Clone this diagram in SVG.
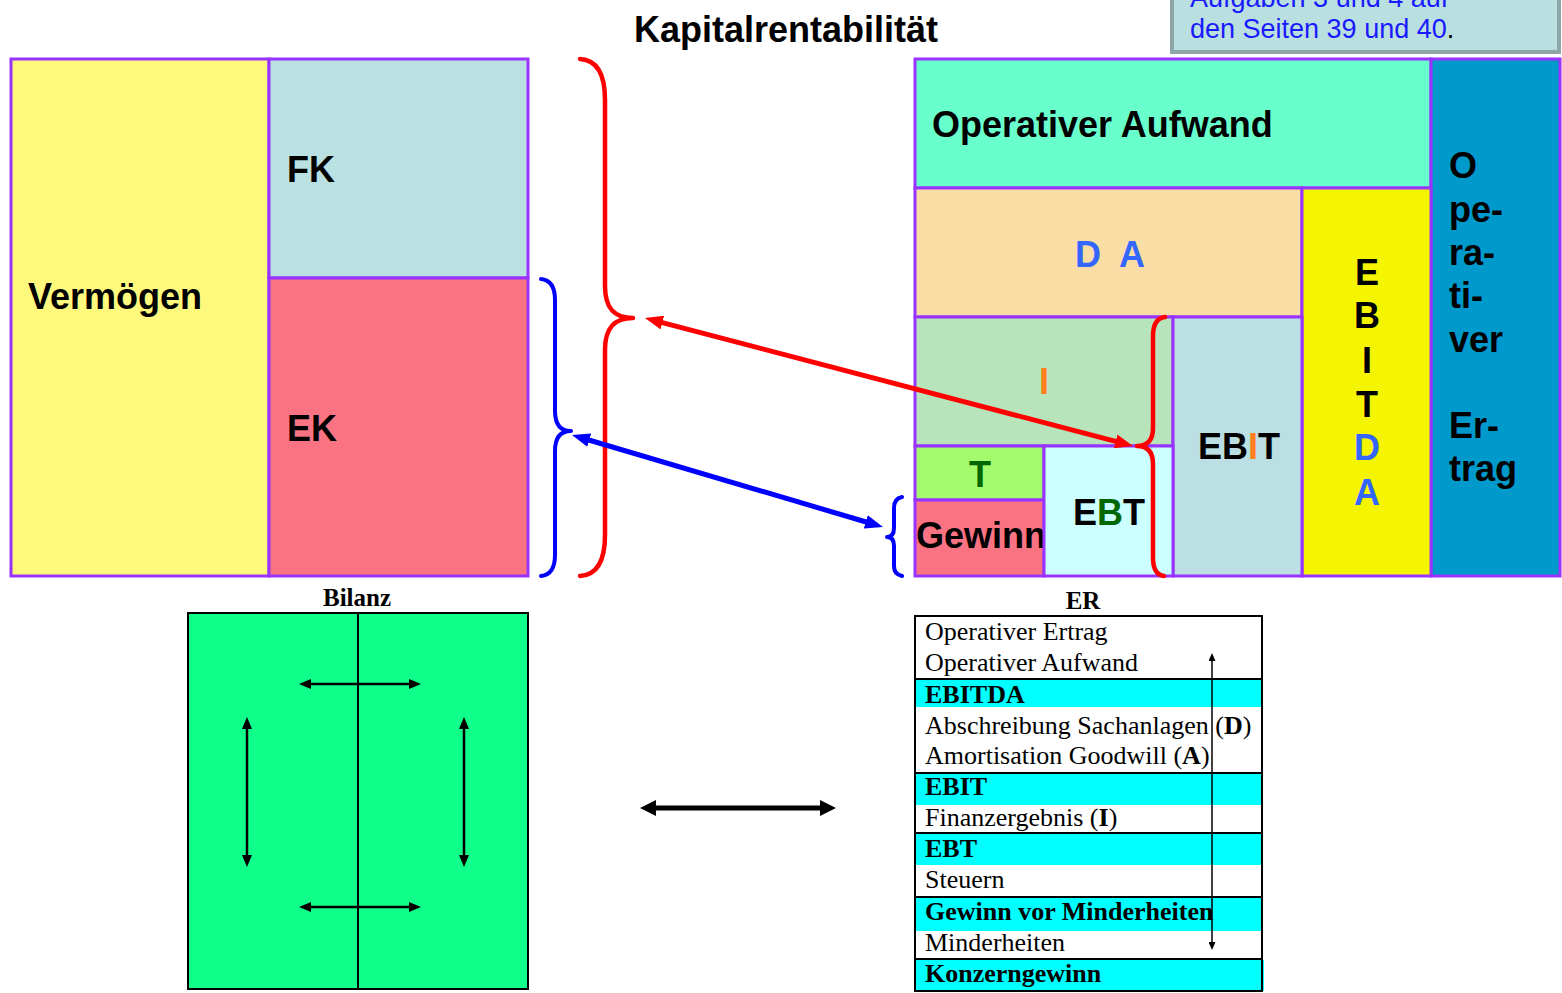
<svg xmlns="http://www.w3.org/2000/svg" width="1562" height="993" viewBox="0 0 1562 993">
  <style>
    .box { stroke: #9933ff; stroke-width: 3; }
    .lbl { font-family: "Liberation Sans", Arial, sans-serif; font-weight: bold; font-size: 36px; fill: #000; }
    .blue { fill: #3366ff; }
    .orange { fill: #ff7f1e; }
    .dgreen { fill: #006600; }
    .brace { fill: none; stroke-linecap: round; stroke-linejoin: round; }
    .serif { font-family: "Liberation Serif", "Times New Roman", serif; font-size: 26px; fill: #000; }
    .sb { font-weight: bold; }
    .rule { stroke: #000; stroke-width: 2; }
    .note { font-family: "Liberation Sans", Arial, sans-serif; font-size: 27px; fill: #1a1aff; }
  </style>
  <defs>
    <marker id="arrRed" markerUnits="userSpaceOnUse" markerWidth="18" markerHeight="14" viewBox="0 0 18 14" refX="4" refY="7" orient="auto-start-reverse">
      <path d="M0,0 L18,7 L0,14 z" fill="#ff0000"/>
    </marker>
    <marker id="arrBlue" markerUnits="userSpaceOnUse" markerWidth="18" markerHeight="14" viewBox="0 0 18 14" refX="4" refY="7" orient="auto-start-reverse">
      <path d="M0,0 L18,7 L0,14 z" fill="#0000ff"/>
    </marker>
    <marker id="arrBig" markerUnits="userSpaceOnUse" markerWidth="16" markerHeight="16" viewBox="0 0 16 16" refX="4" refY="8" orient="auto-start-reverse">
      <path d="M0,0 L16,8 L0,16 z" fill="#000"/>
    </marker>
    <marker id="arrSmall" markerUnits="userSpaceOnUse" markerWidth="12" markerHeight="10" viewBox="0 0 12 10" refX="3" refY="5" orient="auto-start-reverse">
      <path d="M0,0 L12,5 L0,10 z" fill="#000"/>
    </marker>
    <marker id="arrTiny" markerUnits="userSpaceOnUse" markerWidth="8" markerHeight="7" viewBox="0 0 8 7" refX="2" refY="3.5" orient="auto-start-reverse">
      <path d="M0,0 L8,3.5 L0,7 z" fill="#000"/>
    </marker>
  </defs>

  <rect width="1562" height="993" fill="#ffffff"/>

  <!-- note box in the top right corner -->
  <g id="note">
    <rect x="1172" y="-10" width="387" height="62" fill="#b9dfe0" stroke="#8fa6a8" stroke-width="4"/>
    <text class="note" x="1190" y="7">Aufgaben 3 und 4 auf</text>
    <text class="note" x="1190" y="38">den Seiten 39 und 40<tspan fill="#000">.</tspan></text>
  </g>

  <g id="title">
    <text class="lbl" x="786" y="42" text-anchor="middle">Kapitalrentabilität</text>
  </g>

  <!-- balance sheet blocks -->
  <g id="vermoegen">
    <rect class="box" x="11" y="59" width="258" height="517" fill="#fef97c"/>
    <text class="lbl" x="28" y="309">Vermögen</text>
  </g>
  <g id="fk">
    <rect class="box" x="269" y="59" width="259" height="219" fill="#bbe0e2"/>
    <text class="lbl" x="287" y="182">FK</text>
  </g>
  <g id="ek">
    <rect class="box" x="269" y="278" width="259" height="298" fill="#f97382"/>
    <text class="lbl" x="287" y="441">EK</text>
  </g>

  <!-- income statement blocks -->
  <g id="op-aufwand">
    <rect class="box" x="915" y="59" width="516" height="129" fill="#69ffcc"/>
    <text class="lbl" x="932" y="137">Operativer Aufwand</text>
  </g>
  <g id="op-ertrag">
    <rect class="box" x="1431" y="59" width="129" height="517" fill="#0099cc"/>
    <text class="lbl" x="1449" y="178">O</text>
    <text class="lbl" x="1449" y="222">pe-</text>
    <text class="lbl" x="1449" y="265">ra-</text>
    <text class="lbl" x="1449" y="308">ti-</text>
    <text class="lbl" x="1449" y="352">ver</text>
    <text class="lbl" x="1449" y="438">Er-</text>
    <text class="lbl" x="1449" y="481">trag</text>
  </g>
  <g id="da">
    <rect class="box" x="915" y="188" width="387" height="129" fill="#fadca5"/>
    <text class="lbl blue" x="1075" y="267">D</text>
    <text class="lbl blue" x="1119" y="267">A</text>
  </g>
  <g id="ebitda">
    <rect class="box" x="1302" y="188" width="129" height="388" fill="#f5f502"/>
    <text class="lbl" x="1367" y="285" text-anchor="middle">E</text>
    <text class="lbl" x="1367" y="328" text-anchor="middle">B</text>
    <text class="lbl" x="1367" y="373" text-anchor="middle">I</text>
    <text class="lbl" x="1367" y="417" text-anchor="middle">T</text>
    <text class="lbl blue" x="1367" y="460" text-anchor="middle">D</text>
    <text class="lbl blue" x="1367" y="505" text-anchor="middle">A</text>
  </g>
  <g id="i">
    <rect class="box" x="915" y="317" width="258" height="129" fill="#b8e4bb"/>
    <text class="lbl orange" x="1044" y="394" text-anchor="middle">I</text>
  </g>
  <g id="ebit">
    <rect class="box" x="1173" y="317" width="129" height="259" fill="#bbdfe2"/>
    <text class="lbl" x="1198" y="459">EB<tspan class="orange">I</tspan>T</text>
  </g>
  <g id="t">
    <rect class="box" x="915" y="446" width="129" height="54" fill="#a2fa6c"/>
    <text class="lbl dgreen" x="980" y="487" text-anchor="middle">T</text>
  </g>
  <g id="gewinn">
    <rect class="box" x="915" y="500" width="129" height="76" fill="#f97382"/>
    <text class="lbl" x="916" y="548">Gewinn</text>
  </g>
  <g id="ebt">
    <rect class="box" x="1044" y="446" width="129" height="130" fill="#ccffff"/>
    <text class="lbl" x="1073" y="525">E<tspan class="dgreen">B</tspan>T</text>
  </g>

  <!-- braces -->
  <g id="braces">
    <path class="brace" stroke="#ff0000" stroke-width="4.5" d="M580,59 C598,60 605,75 605,100 L605,286 C605,308 614,318 633,318 C614,318 605,328 605,350 L605,535 C605,560 598,575 580,576"/>
    <path class="brace" stroke="#0000ff" stroke-width="4" d="M541,279 C551,280 555,288 555,300 L555,411 C555,424 560,431 571,431 C560,431 555,438 555,451 L555,555 C555,568 551,575 541,576"/>
    <path class="brace" stroke="#0000ff" stroke-width="4" d="M902,497 C897,498 894,502 894,508 L894,528 C894,534 892,537 887,537 C892,537 894,540 894,546 L894,566 C894,572 897,575 902,576"/>
    <path class="brace" stroke="#ff0000" stroke-width="4.5" d="M1165,317 C1157,318 1153,324 1153,336 L1153,428 C1153,440 1148,446 1137,446 C1148,446 1153,452 1153,464 L1153,558 C1153,570 1157,575 1164,576"/>
  </g>

  <!-- connectors -->
  <g id="connectors">
    <line x1="658.5" y1="321.6" x2="1119.5" y2="442.4" stroke="#ff0000" stroke-width="5" marker-start="url(#arrRed)" marker-end="url(#arrRed)"/>
    <line x1="585.4" y1="439" x2="869.6" y2="523" stroke="#0000ff" stroke-width="5" marker-start="url(#arrBlue)" marker-end="url(#arrBlue)"/>
    <line x1="652" y1="808" x2="824" y2="808" stroke="#000" stroke-width="5" marker-start="url(#arrBig)" marker-end="url(#arrBig)"/>
  </g>

  <!-- Bilanz sketch -->
  <g id="bilanz">
    <text x="357" y="606" text-anchor="middle" font-family="'Liberation Serif', 'Times New Roman', serif" font-weight="bold" font-size="25">Bilanz</text>
    <rect x="188" y="613" width="340" height="376" fill="#10ff8a" stroke="#000" stroke-width="2"/>
    <line x1="358" y1="613" x2="358" y2="989" stroke="#000" stroke-width="2"/>
    <line x1="308" y1="684" x2="412" y2="684" stroke="#000" stroke-width="2.5" marker-start="url(#arrSmall)" marker-end="url(#arrSmall)"/>
    <line x1="308" y1="907" x2="412" y2="907" stroke="#000" stroke-width="2.5" marker-start="url(#arrSmall)" marker-end="url(#arrSmall)"/>
    <line x1="247" y1="726" x2="247" y2="858" stroke="#000" stroke-width="2.5" marker-start="url(#arrSmall)" marker-end="url(#arrSmall)"/>
    <line x1="464" y1="726" x2="464" y2="858" stroke="#000" stroke-width="2.5" marker-start="url(#arrSmall)" marker-end="url(#arrSmall)"/>
  </g>

  <!-- ER table -->
  <g id="er">
    <text x="1083" y="609" text-anchor="middle" font-family="'Liberation Serif', 'Times New Roman', serif" font-weight="bold" font-size="25">ER</text>
    <rect x="915" y="616" width="347" height="375" fill="#ffffff"/>
    <rect x="915" y="680" width="347" height="27" fill="#00ffff"/>
    <rect x="915" y="774" width="347" height="31" fill="#00ffff"/>
    <rect x="915" y="834" width="347" height="31" fill="#00ffff"/>
    <rect x="915" y="898" width="347" height="33" fill="#00ffff"/>
    <rect x="915" y="960" width="349" height="31" fill="#00ffff"/>
    <line class="rule" x1="915" y1="679" x2="1262" y2="679"/>
    <line class="rule" x1="915" y1="773" x2="1262" y2="773"/>
    <line class="rule" x1="915" y1="833" x2="1262" y2="833"/>
    <line class="rule" x1="915" y1="897" x2="1262" y2="897"/>
    <line class="rule" x1="915" y1="959" x2="1262" y2="959"/>
    <rect x="915" y="616" width="347" height="375" fill="none" stroke="#000" stroke-width="2"/>
    <text class="serif" x="925" y="640">Operativer Ertrag</text>
    <text class="serif" x="925" y="671">Operativer Aufwand</text>
    <text class="serif sb" x="925" y="703">EBITDA</text>
    <text class="serif" x="925" y="734">Abschreibung Sachanlagen (<tspan class="sb">D</tspan>)</text>
    <text class="serif" x="925" y="764">Amortisation Goodwill (<tspan class="sb">A</tspan>)</text>
    <text class="serif sb" x="925" y="795">EBIT</text>
    <text class="serif" x="925" y="826">Finanzergebnis (<tspan class="sb">I</tspan>)</text>
    <text class="serif sb" x="925" y="857">EBT</text>
    <text class="serif" x="925" y="888">Steuern</text>
    <text class="serif sb" x="925" y="920">Gewinn vor Minderheiten</text>
    <text class="serif" x="925" y="951">Minderheiten</text>
    <text class="serif sb" x="925" y="982">Konzerngewinn</text>
    <line x1="1212" y1="659" x2="1212" y2="944" stroke="#000" stroke-width="1.5" marker-start="url(#arrTiny)" marker-end="url(#arrTiny)"/>
  </g>
</svg>
